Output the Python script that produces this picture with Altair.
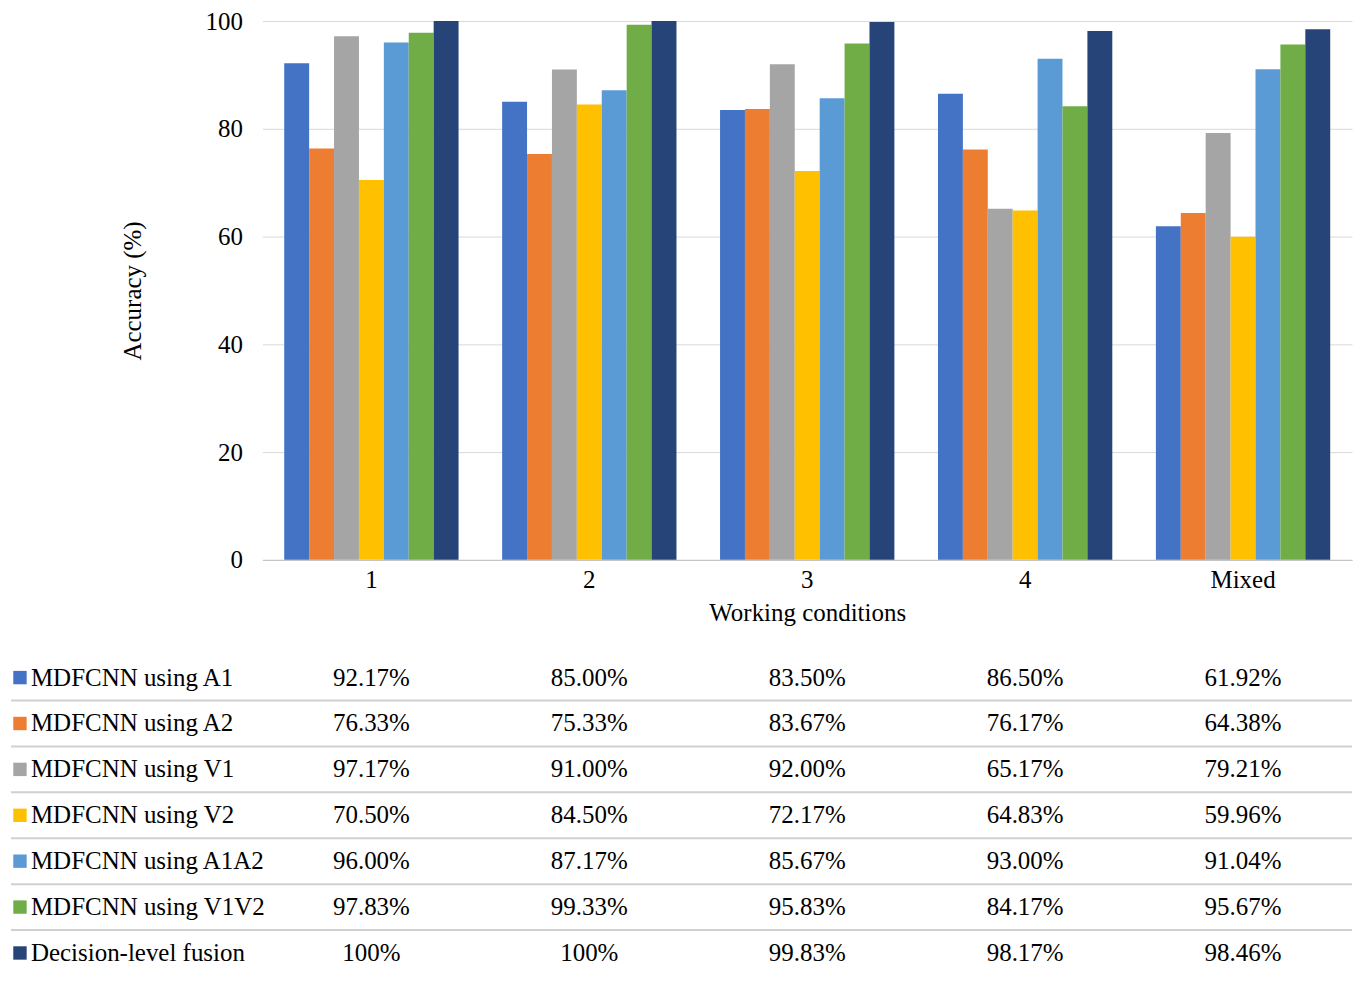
import pandas as pd
import altair as alt

conditions = ["1", "2", "3", "4", "Mixed"]
series = ["MDFCNN using A1", "MDFCNN using A2", "MDFCNN using V1", "MDFCNN using V2",
          "MDFCNN using A1A2", "MDFCNN using V1V2", "Decision-level fusion"]
colors = ["#4472C4", "#ED7D31", "#A5A5A5", "#FFC000", "#5B9BD5", "#70AD47", "#264478"]

a1 = [92.17, 85.00, 83.50, 86.50, 61.92]
a2 = [76.33, 75.33, 83.67, 76.17, 64.38]
v1 = [97.17, 91.00, 92.00, 65.17, 79.21]
v2 = [70.50, 84.50, 72.17, 64.83, 59.96]
a1a2 = [96.00, 87.17, 85.67, 93.00, 91.04]
v1v2 = [97.83, 99.33, 95.83, 84.17, 95.67]
fusion = [100.0, 100.0, 99.83, 98.17, 98.46]
values = [a1, a2, v1, v2, a1a2, v1v2, fusion]

rows = []
for i, (name, vals) in enumerate(zip(series, values)):
    for cond, v in zip(conditions, vals):
        label = "100%" if v == 100 else f"{v:.2f}%"
        rows.append({"series": name, "cond": cond, "acc": v, "label": label, "row": i + 0.5})
df = pd.DataFrame(rows)
legend_df = pd.DataFrame({"series": series, "row": [i + 0.5 for i in range(7)]})
lines_df = pd.DataFrame({"row": list(range(1, 7))})

font = "Liberation Serif"
color_scale = alt.Scale(domain=series, range=colors)
x_scale = alt.Scale(domain=conditions, paddingInner=0.2, paddingOuter=0.1)

bars = alt.Chart(df).mark_bar().encode(
    x=alt.X("cond:N", scale=x_scale, sort=conditions,
            axis=alt.Axis(title="Working conditions", labelAngle=0, labelFont=font, titleFont=font,
                          labelFontSize=25, titleFontSize=25, titleFontWeight="normal",
                          labelColor="black", titleColor="black", ticks=False,
                          domainColor="#bfbfbf", labelPadding=8, titlePadding=8)),
    xOffset=alt.XOffset("series:N", sort=series),
    y=alt.Y("acc:Q", scale=alt.Scale(domain=[0, 100]),
            axis=alt.Axis(title="Accuracy (%)", values=[0, 20, 40, 60, 80, 100], labelFont=font,
                          titleFont=font, labelFontSize=25, titleFontSize=25, titleFontWeight="normal",
                          labelColor="black", titleColor="black", domain=False, ticks=False,
                          gridColor="#d9d9d9", labelPadding=20, titlePadding=60)),
    color=alt.Color("series:N", scale=color_scale, legend=None),
).properties(width=1092, height=540)

y_rows = alt.Scale(domain=[0, 7], reverse=True)
cells = alt.Chart(df).mark_text(font=font, fontSize=25, color="black").encode(
    x=alt.X("cond:N", scale=x_scale, sort=conditions, axis=None),
    y=alt.Y("row:Q", scale=y_rows, axis=None),
    text="label:N",
)
squares = alt.Chart(legend_df).mark_square(size=180, opacity=1).encode(
    x=alt.value(-243),
    y=alt.Y("row:Q", scale=y_rows, axis=None),
    color=alt.Color("series:N", scale=color_scale, legend=None),
)
names = alt.Chart(legend_df).mark_text(font=font, fontSize=25, align="left", color="black").encode(
    x=alt.value(-232),
    y=alt.Y("row:Q", scale=y_rows, axis=None),
    text="series:N",
)
lines = alt.Chart(lines_df).mark_rule(color="#d0d0d0", strokeWidth=2).encode(
    x=alt.value(-252), x2=alt.value(1092),
    y=alt.Y("row:Q", scale=y_rows, axis=None),
)
table = alt.layer(lines, squares, names, cells).properties(width=1092, height=322)

chart = alt.vconcat(bars, table, spacing=95, bounds="flush").properties(
    padding={"left": 2, "top": 0, "right": 2, "bottom": 2}
).configure_view(stroke=None)

chart.save("out.html", embed_options={"renderer": "svg", "actions": False})
